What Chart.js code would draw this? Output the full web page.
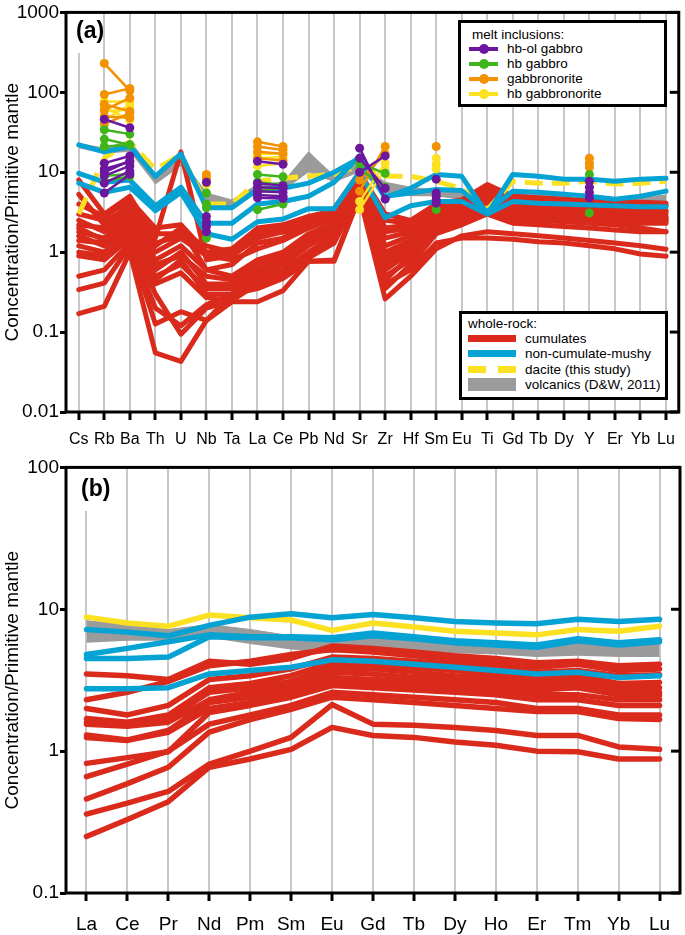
<!DOCTYPE html>
<html>
<head>
<meta charset="utf-8">
<script src="https://cdn.jsdelivr.net/npm/chart.js@4.4.1/dist/chart.umd.min.js"></script>
<style>
  body { margin: 0; background: #fff; font-family: "Liberation Sans", Arial, sans-serif; color: #000; }
  #hoja { position: relative; width: 685px; height: 935px; overflow: hidden; }
  canvas { position: absolute; left: 0; }
  .panel { position: absolute; font-weight: bold; font-size: 23px; line-height: 23px; }
  .leyenda { position: absolute; border: 3px solid #000; background: #fff; box-sizing: border-box; font-size: 13.5px; }
  .leyenda div { position: absolute; line-height: 16px; white-space: nowrap; }
  .fila { left: 0; right: 0; height: 16px; }
  .fila i { position: absolute; display: block; }
  .fila span { position: absolute; }
</style>
</head>
<body>
<div id="hoja">
  <canvas id="graficoA" width="685" height="455" style="top:0"></canvas>
  <canvas id="graficoB" width="685" height="480" style="top:455px"></canvas>

  <div class="panel" style="left:76px;top:19px">(a)</div>
  <div class="panel" style="left:81px;top:477px">(b)</div>

  <div class="leyenda" style="left:458px;top:20px;width:209px;height:87px">
    <div style="left:11px;top:4px">melt inclusions:</div>
    <div class="fila" style="top:18px"><i style="left:8px;top:6px;width:29px;height:4px;background:#6d179f"></i><i style="left:18px;top:3px;width:10px;height:10px;border-radius:5px;background:#6d179f"></i><span style="left:46px">hb-ol gabbro</span></div>
    <div class="fila" style="top:33px"><i style="left:8px;top:6px;width:29px;height:4px;background:#40b519"></i><i style="left:18px;top:3px;width:10px;height:10px;border-radius:5px;background:#40b519"></i><span style="left:46px">hb gabbro</span></div>
    <div class="fila" style="top:48px"><i style="left:8px;top:6px;width:29px;height:4px;background:#f39200"></i><i style="left:18px;top:3px;width:10px;height:10px;border-radius:5px;background:#f39200"></i><span style="left:46px">gabbronorite</span></div>
    <div class="fila" style="top:63px"><i style="left:8px;top:6px;width:29px;height:4px;background:#fbe122"></i><i style="left:18px;top:3px;width:10px;height:10px;border-radius:5px;background:#fbe122"></i><span style="left:46px">hb gabbronorite</span></div>
  </div>

  <div class="leyenda" style="left:459px;top:311px;width:209px;height:89px">
    <div style="left:6px;top:2px">whole-rock:</div>
    <div class="fila" style="top:17px"><i style="left:6px;top:4px;width:48px;height:7px;background:#da2a1c"></i><span style="left:63px">cumulates</span></div>
    <div class="fila" style="top:32px"><i style="left:6px;top:4px;width:48px;height:7px;background:#05a3d3"></i><span style="left:63px">non-cumulate-mushy</span></div>
    <div class="fila" style="top:48px"><i style="left:6px;top:4px;width:18px;height:7px;background:#fbe122"></i><i style="left:36px;top:4px;width:18px;height:7px;background:#fbe122"></i><span style="left:63px">dacite (this study)</span></div>
    <div class="fila" style="top:63px"><i style="left:6px;top:1px;width:48px;height:13px;background:#9b9b9b"></i><span style="left:63px">volcanics (D&amp;W, 2011)</span></div>
  </div>
</div>

<script>
// Diagramas multielementales normalizados al manto primitivo

const fuente = '"Liberation Sans", Arial, sans-serif';
const rojo = '#da2a1c', azul = '#05a3d3', amarillo = '#fbe122', gris = '#9b9b9b';
const morado = '#6d179f', verde = '#40b519', naranja = '#f39200';

// ---------- panel (a) ----------
const elementosA = ['Cs','Rb','Ba','Th','U','Nb','Ta','La','Ce','Pb','Nd','Sr','Zr','Hf','Sm','Eu','Ti','Gd','Tb','Dy','Y','Er','Yb','Lu'];
const marcasA = [0.01, 0.1, 1, 10, 100, 1000];

// cumulados (roca total)
const cumuladosA = [
  [8.0, 3.0, 5.0, 1.5, 18, 0.8, 0.9, 1.5, 1.8, 2.5, 3.5, 10, 3.0, 2.5, 4.0, 4.5, 7.0, 5.0, 4.8, 4.6, 4.4, 4.3, 4.2, 4.1],
  [5.3, 2.2, 4.0, 1.2, 2.0, 0.6, 0.7, 1.3, 1.5, 2.4, 3.0, 9, 2.0, 2.2, 3.5, 4.0, 6.5, 4.5, 4.3, 4.1, 4.0, 3.9, 3.8, 3.8],
  [3.0, 2.5, 3.5, 1.7, 1.7, 1.2, 1.0, 1.8, 2.0, 2.5, 3.0, 8.5, 1.5, 1.8, 3.2, 3.6, 5.5, 4.0, 3.8, 3.6, 3.5, 3.4, 3.3, 3.3],
  [2.5, 1.8, 3.0, 1.0, 1.5, 0.9, 0.8, 1.1, 1.4, 2.0, 2.6, 8, 1.2, 1.6, 3.0, 3.4, 5.0, 3.7, 3.5, 3.4, 3.3, 3.2, 3.1, 3.0],
  [2.0, 1.4, 2.5, 0.8, 1.2, 0.6, 0.5, 0.8, 1.0, 1.7, 2.3, 7.5, 1.0, 1.4, 2.7, 3.2, 4.5, 3.4, 3.2, 3.1, 3.0, 2.9, 2.8, 2.8],
  [1.6, 1.2, 2.0, 0.6, 1.0, 0.4, 0.4, 0.6, 0.8, 1.4, 2.0, 7, 0.8, 1.2, 2.4, 2.9, 4.0, 3.1, 3.0, 2.9, 2.8, 2.7, 2.6, 2.6],
  [1.2, 1.0, 1.8, 0.45, 0.8, 0.3, 0.3, 0.5, 0.7, 1.2, 1.8, 6.5, 0.6, 1.0, 2.2, 2.7, 3.6, 2.9, 2.8, 2.7, 2.6, 2.5, 2.5, 2.5],
  [0.9, 0.8, 1.5, 0.4, 0.55, 0.27, 0.25, 0.4, 0.5, 0.9, 1.5, 6, 0.5, 0.8, 1.9, 2.4, 3.3, 2.7, 2.6, 2.5, 2.4, 2.3, 2.3, 2.3],
  [0.34, 0.41, 1.2, 0.126, 0.18, 0.14, 0.24, 0.24, 0.33, 0.77, 0.77, 5, 0.26, 0.5, 1.1, 1.6, 1.8, 1.7, 1.6, 1.5, 1.4, 1.3, 1.2, 1.09],
  [0.17, 0.21, 1.0, 0.055, 0.043, 0.14, 0.3, 0.35, 0.47, 0.77, 0.8, 5, 0.4, 0.6, 1.3, 1.5, 1.5, 1.45, 1.35, 1.3, 1.2, 1.1, 0.95, 0.89],
  [2.2, 2.0, 3.2, 1.3, 1.6, 1.0, 0.9, 1.6, 1.8, 2.2, 2.8, 8.5, 1.8, 2.0, 3.3, 3.7, 6.0, 3.9, 3.7, 3.5, 3.4, 3.3, 3.3, 3.2],
  [1.8, 1.5, 2.8, 0.7, 0.9, 0.5, 0.45, 0.7, 0.9, 1.6, 2.2, 7.5, 0.9, 1.3, 2.6, 3.0, 4.2, 3.2, 3.1, 3.0, 2.9, 2.8, 2.7, 2.7],
  [1.4, 1.3, 2.2, 0.5, 0.7, 0.35, 0.35, 0.55, 0.75, 1.3, 1.9, 6.8, 0.7, 1.1, 2.3, 2.8, 3.8, 3.0, 2.9, 2.8, 2.7, 2.6, 2.5, 2.4],
  [4.0, 2.8, 4.5, 2.0, 2.2, 1.0, 1.1, 2.0, 2.2, 2.8, 3.3, 9.5, 2.5, 2.3, 3.8, 4.2, 6.8, 4.6, 4.4, 4.2, 4.1, 4.0, 3.9, 3.9],
  [1.0, 0.9, 1.6, 0.3, 0.094, 0.2, 0.25, 0.45, 0.6, 1.0, 1.6, 6, 0.45, 0.9, 2.0, 2.5, 3.2, 2.6, 2.5, 2.4, 2.3, 2.2, 2.0, 1.8],
  [0.5, 0.6, 1.3, 0.2, 0.12, 0.22, 0.3, 0.4, 0.55, 0.85, 1.3, 5.5, 0.35, 0.7, 1.7, 2.2, 3.0, 2.3, 2.2, 2.1, 2.0, 1.9, 1.8, 1.8]
];

// no cumulado (mushy)
const mushyA = [
  [22, 18, 21, 8.9, 17, 3.6, 3.6, 6.1, 6.3, 7.3, 10, 15, 4.8, 6.3, 9.4, 8.9, 3.0, 9.4, 8.9, 8.2, 8.2, 7.7, 8.2, 8.4],
  [9.7, 7.5, 8.0, 3.8, 6.5, 2.3, 2.3, 4.0, 4.3, 5.0, 7.5, 16, 5.0, 5.5, 6.1, 5.9, 3.2, 5.8, 5.6, 5.3, 5.0, 4.6, 5.0, 5.8],
  [7.3, 5.6, 6.5, 3.3, 5.6, 1.7, 1.45, 2.4, 2.6, 3.5, 3.5, 10, 2.7, 3.8, 4.3, 4.3, 3.0, 4.3, 4.1, 4.0, 3.9, 3.8, 3.7, 3.7]
];

const daciteA = [3.0, 15, 24, 10.9, 16.7, 4.0, 4.0, 7.7, 8.4, 8.9, 9.4, 12, 8.9, 8.9, 7.7, 6.3, 3.4, 7.7, 7.3, 7.3, 7.7, 7.1, 7.3, 7.7];

// volcánicas (D&W, 2011): banda
const volcAltoA = [23, 20, 25, 9.5, 15, 5.5, 4.5, 7.0, 7.5, 18, 9.0, 13, 7.5, 6.5, 6.0, 5.5, 4.0, 5.5, 5.2, 5.0, 5.0, 4.8, 4.8, 5.2];
const volcBajoA = [20, 17, 18, 7.0, 12, 4.0, 3.5, 5.5, 5.8, 10, 7.5, 10, 5.5, 5.0, 5.0, 4.5, 3.5, 4.5, 4.3, 4.2, 4.1, 4.0, 3.9, 4.2];

// inclusiones fundidas: pares [elemento1, elemento2] y puntos sueltos
const hbOlRbBa = [[46, 36], [13, 16], [11, 13.5], [10, 14], [9, 12], [7.3, 10.3], [5.5, 9.4]];
const hbOlNb = [7.5, 2.8, 2.4, 2.1, 1.8];
const hbOlLaCe = [[13.7, 12.6], [7.3, 6.8], [6.5, 6.3], [5.8, 5.6], [5.2, 5.0], [4.8, 4.7]];
const hbOlSrZr = [[20, 4.6], [10, 16], [15, 6.3]];
const hbOlSm = [8.2, 5.5, 5.0, 4.5, 4.1];
const hbOlY = [7.7, 6.5, 5.6, 4.8];

const hbGbRbBa = [[34, 30], [26, 22], [21, 22], [9, 9.5], [7.7, 8.9]];
const hbGbNb = [5.5, 4.0, 3.6, 1.5];
const hbGbLaCe = [[9.4, 8.8], [7.5, 7.0], [6.0, 6.3], [3.4, 4.0]];
const hbGbSrZr = [[13, 9.7], [11, 6.5]];
const hbGbSm = [3.4];
const hbGbY = [9.4, 3.1];

const gnRbBa = [[230, 105], [94, 112], [71, 58], [60, 85], [50, 48], [40, 55]];
const gnNb = [9.4, 8.5];
const gnLaCe = [[24, 21], [21, 19], [18, 17], [15, 14]];
const gnSrZr = [[5.8, 21], [8, 17]];
const gnSm = [21];
const gnY = [15, 13, 11.5];

const hbGnRbBa = [[77, 77], [58, 61], [45, 70], [65, 45]];
const hbGnNb = [8.0, 7.0];
const hbGnLaCe = [[17, 17], [15, 15.5], [12, 13]];
const hbGnSrZr = [[4.3, 13], [3.4, 11]];
const hbGnSm = [15, 12.6, 11];
const hbGnY = [12.5];

// ---------- panel (b) ----------
const elementosB = ['La','Ce','Pr','Nd','Pm','Sm','Eu','Gd','Tb','Dy','Ho','Er','Tm','Yb','Lu'];
const marcasB = [0.1, 1, 10, 100];

const cumuladosB = [
  [3.5, 3.4, 3.2, 4.3, 4.1, 4.5, 5.5, 5.3, 5.0, 4.7, 4.5, 4.2, 4.3, 4.0, 4.1],
  [2.3, 2.6, 3.1, 4.0, 4.3, 4.8, 5.2, 5.0, 4.7, 4.4, 4.2, 3.9, 4.1, 3.7, 3.8],
  [2.0, 1.8, 2.1, 3.2, 3.4, 3.8, 4.6, 4.5, 4.3, 4.1, 3.9, 3.6, 3.7, 3.4, 3.45],
  [1.7, 1.6, 1.8, 2.8, 3.0, 3.4, 4.2, 4.1, 3.9, 3.7, 3.5, 3.3, 3.4, 3.0, 3.05],
  [1.6, 1.55, 1.7, 2.6, 2.8, 3.1, 3.9, 3.8, 3.6, 3.4, 3.3, 3.1, 3.2, 2.8, 2.8],
  [1.55, 1.5, 1.6, 2.3, 2.6, 2.9, 3.6, 3.5, 3.3, 3.2, 3.1, 2.9, 3.0, 2.6, 2.6],
  [1.3, 1.2, 1.4, 2.2, 2.4, 2.7, 3.3, 3.2, 3.1, 3.0, 2.9, 2.7, 2.8, 2.5, 2.47],
  [1.25, 1.19, 1.36, 2.0, 2.2, 2.5, 3.1, 3.0, 2.9, 2.8, 2.7, 2.5, 2.5, 2.3, 2.3],
  [0.82, 0.9, 0.99, 1.87, 2.1, 2.4, 2.9, 2.8, 2.7, 2.6, 2.5, 2.3, 2.3, 2.1, 2.1],
  [0.66, 0.81, 1.0, 1.55, 1.8, 2.1, 2.6, 2.5, 2.4, 2.3, 2.2, 2.0, 2.0, 1.8, 1.8],
  [0.46, 0.59, 0.77, 1.36, 1.67, 1.97, 2.4, 2.3, 2.2, 2.1, 2.0, 1.9, 1.9, 1.7, 1.67],
  [0.36, 0.43, 0.52, 0.81, 1.0, 1.25, 2.13, 1.55, 1.52, 1.47, 1.4, 1.29, 1.29, 1.07, 1.03],
  [0.25, 0.33, 0.44, 0.77, 0.88, 1.03, 1.47, 1.29, 1.25, 1.16, 1.1, 1.0, 0.99, 0.88, 0.88]
];

const mushyB = [
  [7.2, 6.9, 6.5, 7.7, 8.8, 9.3, 8.7, 9.2, 8.7, 8.2, 8.0, 7.9, 8.5, 8.2, 8.5],
  [4.8, 5.3, 5.9, 6.6, 6.4, 6.4, 6.3, 6.8, 6.4, 6.0, 5.8, 5.6, 6.2, 5.8, 6.1],
  [4.5, 4.5, 4.6, 6.4, 6.3, 6.3, 6.1, 6.5, 6.2, 5.8, 5.6, 5.4, 6.0, 5.6, 5.9],
  [2.75, 2.75, 2.8, 3.5, 3.7, 3.9, 4.4, 4.3, 4.1, 3.9, 3.7, 3.5, 3.6, 3.3, 3.4]
];

const daciteB = [8.8, 8.0, 7.6, 9.1, 8.7, 8.4, 7.1, 8.0, 7.5, 7.0, 6.8, 6.6, 7.2, 7.0, 7.6];

const volcAltoB = [8.3, 7.8, 7.2, 7.8, 7.2, 6.5, 6.2, 6.6, 6.3, 6.0, 5.9, 5.8, 6.0, 5.8, 6.0];
const volcBajoB = [5.8, 6.0, 6.0, 6.3, 5.7, 5.2, 4.9, 5.3, 5.1, 4.9, 4.8, 4.6, 4.7, 4.6, 4.6];

// ---------- construcción de series ----------
function linea(valores, color, ancho, orden, extra) {
  return Object.assign({
    data: valores, borderColor: color, backgroundColor: color, borderWidth: ancho,
    pointRadius: 0, fill: false, tension: 0, order: orden,
    borderCapStyle: 'round', borderJoinStyle: 'round'
  }, extra || {});
}

function banda(bajo, alto) {
  return [
    linea(bajo, gris, 0, 4),
    linea(alto, gris, 1, 4, { fill: '-1', backgroundColor: gris })
  ];
}

function pares(lista, el1, el2, color) {
  return lista.map(p => ({
    data: [{ x: el1, y: p[0] }, { x: el2, y: p[1] }],
    borderColor: color, backgroundColor: color, borderWidth: 2.5,
    pointRadius: 4.5, pointBorderWidth: 0, order: 0
  }));
}

function sueltos(lista, el, color) {
  return [{
    data: lista.map(v => ({ x: el, y: v })), showLine: false,
    borderColor: color, backgroundColor: color, pointRadius: 4.5, pointBorderWidth: 0, order: 0
  }];
}

function inclusiones(color, rbBa, nb, laCe, srZr, sm, y) {
  return [].concat(
    pares(rbBa, 'Rb', 'Ba', color), sueltos(nb, 'Nb', color),
    pares(laCe, 'La', 'Ce', color), pares(srZr, 'Sr', 'Zr', color),
    sueltos(sm, 'Sm', color), sueltos(y, 'Y', color)
  );
}

// marco negro, marcas interiores a la derecha y hueco en la rejilla bajo la letra del panel
const marco = {
  id: 'marco',
  beforeDatasetsDraw(chart, args, opts) {
    if (!opts.hueco) return;
    const ctx = chart.ctx;
    ctx.save();
    ctx.fillStyle = '#fff';
    ctx.fillRect(opts.hueco[0], opts.hueco[1], opts.hueco[2], opts.hueco[3]);
    ctx.restore();
  },
  afterDraw(chart) {
    const { ctx, chartArea: a } = chart;
    const y = chart.scales.y;
    ctx.save();
    ctx.strokeStyle = '#000';
    ctx.lineWidth = 3;
    y.ticks.forEach(t => {
      const py = y.getPixelForValue(t.value);
      ctx.beginPath();
      ctx.moveTo(a.right, py);
      ctx.lineTo(a.right - 9, py);
      ctx.stroke();
    });
    ctx.strokeRect(a.left, a.top, a.right - a.left, a.bottom - a.top);
    ctx.restore();
  }
};

function ejes(etiquetas, marcas, min, max, altoX, tamX, padX) {
  return {
    x: {
      type: 'category', labels: etiquetas, offset: true,
      afterFit: s => { s.height = altoX; },
      border: { display: false },
      grid: { color: '#c8c8c8', lineWidth: 2, offset: false, drawTicks: true, tickLength: 8, tickColor: '#000', tickWidth: 3 },
      ticks: { color: '#000', font: { family: fuente, size: tamX }, padding: padX, autoSkip: false, maxRotation: 0 }
    },
    y: {
      type: 'logarithmic', position: 'left', min: min, max: max,
      afterBuildTicks: s => { s.ticks = marcas.map(v => ({ value: v })); },
      afterFit: s => { s.width = 66; },
      border: { display: false },
      grid: { drawOnChartArea: false, drawTicks: true, tickLength: 6, tickColor: '#000', tickWidth: 3 },
      ticks: { color: '#000', font: { family: fuente, size: 19 }, padding: 1, callback: v => String(v) },
      title: { display: true, text: 'Concentration/Primitive mantle', color: '#000', font: { family: fuente, size: 19 }, padding: { top: 1, bottom: 0 } }
    }
  };
}

function opciones(etiquetas, marcas, min, max, altoX, tamX, padX, relleno, hueco) {
  return {
    responsive: false, animation: false, events: [],
    layout: { padding: relleno },
    plugins: { legend: { display: false }, tooltip: { enabled: false }, marco: { hueco: hueco } },
    scales: ejes(etiquetas, marcas, min, max, altoX, tamX, padX)
  };
}

const datosA = [].concat(
  inclusiones(morado, hbOlRbBa, hbOlNb, hbOlLaCe, hbOlSrZr, hbOlSm, hbOlY),
  inclusiones(verde, hbGbRbBa, hbGbNb, hbGbLaCe, hbGbSrZr, hbGbSm, hbGbY),
  inclusiones(naranja, gnRbBa, gnNb, gnLaCe, gnSrZr, gnSm, gnY),
  inclusiones(amarillo, hbGnRbBa, hbGnNb, hbGnLaCe, hbGnSrZr, hbGnSm, hbGnY),
  mushyA.map(v => linea(v, azul, 5, 1)),
  [linea(daciteA, amarillo, 5, 2, { borderDash: [18, 9], borderCapStyle: 'butt' })],
  cumuladosA.map(v => linea(v, rojo, 5, 3)),
  banda(volcBajoA, volcAltoA)
);

const datosB = [].concat(
  mushyB.map(v => linea(v, azul, 5.5, 1)),
  [linea(daciteB, amarillo, 5.5, 2)],
  cumuladosB.map(v => linea(v, rojo, 5.5, 3)),
  banda(volcBajoB, volcAltoB)
);

new Chart(document.getElementById('graficoA'), {
  type: 'line',
  data: { labels: elementosA, datasets: datosA },
  options: opciones(elementosA, marcasA, 0.01, 1000, 43, 16, 10, { top: 10, right: 3, left: 0, bottom: 0 }, [72, 12, 14, 41]),
  plugins: [marco]
});

new Chart(document.getElementById('graficoB'), {
  type: 'line',
  data: { labels: elementosB, datasets: datosB },
  options: opciones(elementosB, marcasB, 0.1, 100, 42, 19, 12, { top: 8, right: 5, left: 0, bottom: 0 }, [79, 10, 14, 46]),
  plugins: [marco]
});
</script>
</body>
</html>
